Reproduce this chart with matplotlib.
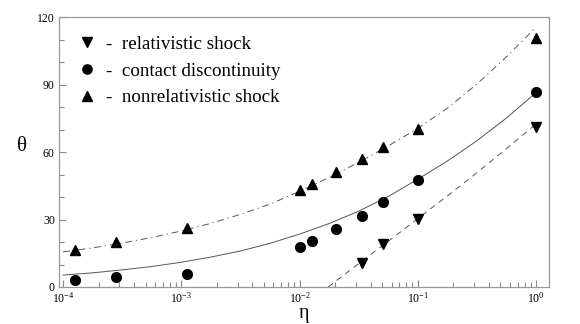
import numpy as np
import matplotlib
matplotlib.use("Agg")
import matplotlib.pyplot as plt
from matplotlib.ticker import LogLocator, MultipleLocator, LogFormatterSciNotation

plt.rcParams['font.family'] = ['Liberation Serif', 'DejaVu Serif']
plt.rcParams['mathtext.fontset'] = 'custom'
plt.rcParams['mathtext.rm'] = 'Liberation Serif'
plt.rcParams['mathtext.it'] = 'Liberation Serif:italic'

# measured points (eta, theta)
eta_rel = [0.0336, 0.0506, 0.1, 1.0]
theta_rel = [10.7, 19.3, 30.4, 71.0]

eta_cd = [1.26e-4, 2.8e-4, 1.12e-3, 0.01, 0.0127, 0.0202, 0.0336, 0.0506, 0.1, 1.0]
theta_cd = [3.0, 4.4, 5.6, 18.0, 20.3, 25.8, 31.6, 37.8, 47.6, 86.8]

eta_nr = [1.26e-4, 2.8e-4, 1.12e-3, 0.01, 0.0127, 0.0202, 0.0336, 0.0506, 0.1, 1.0]
theta_nr = [16.6, 20.0, 26.2, 43.0, 46.0, 51.1, 57.1, 62.2, 70.4, 110.5]

# fitted curves at quarter decades
eta_fit_rel = [0.0175, 0.0178, 0.0316, 0.0562, 0.1, 0.178, 0.316, 0.562, 1.0]
theta_fit_rel = [0.0, 0.3, 10.4, 20.3, 30.4, 40.5, 50.8, 61.5, 72.5]

eta_fit = [1e-4, 1.78e-4, 3.16e-4, 5.62e-4, 1e-3, 1.78e-3, 3.16e-3, 5.62e-3,
           1e-2, 1.78e-2, 3.16e-2, 5.62e-2, 0.1, 0.178, 0.316, 0.562, 1.0]
theta_fit_cd = [5.3, 6.3, 7.6, 9.1, 11.0, 13.3, 16.0, 19.4,
                23.5, 28.2, 33.7, 40.2, 47.9, 56.0, 65.0, 75.1, 86.4]
theta_fit_nr = [15.6, 17.4, 19.5, 22.0, 24.9, 28.3, 32.3, 36.8,
                42.5, 48.7, 55.4, 62.7, 70.5, 79.5, 90.2, 102.3, 115.5]

fig = plt.figure(figsize=(5.8, 3.24), dpi=100)
ax = fig.add_axes([0.1017, 0.1142, 0.845, 0.8333])

lc = '#555555'
ax.plot(eta_fit_rel, theta_fit_rel, color=lc, lw=0.7, dashes=(6, 5))
ax.plot(eta_fit, theta_fit_cd, color=lc, lw=0.7, ls='-')
ax.plot(eta_fit, theta_fit_nr, color=lc, lw=0.7, dashes=(7, 4, 1.2, 4))

h1, = ax.plot(eta_rel, theta_rel, 'kv', ms=7, ls='none')
h2, = ax.plot(eta_cd, theta_cd, 'ko', ms=7, ls='none')
h3, = ax.plot(eta_nr, theta_nr, 'k^', ms=7, ls='none')

ax.set_xscale('log')
ax.set_xlim(10**-4.034, 10**0.11)
ax.set_ylim(0, 120)
ax.xaxis.set_major_locator(LogLocator(base=10, numticks=10))
ax.xaxis.set_minor_locator(LogLocator(base=10, subs=np.arange(2, 10), numticks=20))
ax.xaxis.set_major_formatter(LogFormatterSciNotation())
ax.yaxis.set_major_locator(MultipleLocator(30))
ax.yaxis.set_minor_locator(MultipleLocator(10))

ax.tick_params(which='both', direction='in', colors='#888888', labelcolor='black', labelsize=8.5, width=0.8)
ax.tick_params(which='major', length=5, pad=3)
ax.tick_params(which='minor', length=3.5)
for s in ax.spines.values():
    s.set_color('#999999')
    s.set_linewidth(0.9)

ax.set_xlabel('η', fontsize=14.5)
ax.xaxis.set_label_coords(0.5, -0.063)
ax.set_ylabel('θ', fontsize=15, rotation=0, va='center', ha='center')
ax.yaxis.set_label_coords(-0.0755, 0.52)

ax.legend([h1, h2, h3],
          ['-  relativistic shock', '-  contact discontinuity', '-  nonrelativistic shock'],
          loc='upper left', bbox_to_anchor=(0.005, 0.995), frameon=False,
          fontsize=13.7, handlelength=0.9, handletextpad=0.55, labelspacing=0.5,
          markerscale=0.95)

fig.savefig('out.png', dpi=100)
